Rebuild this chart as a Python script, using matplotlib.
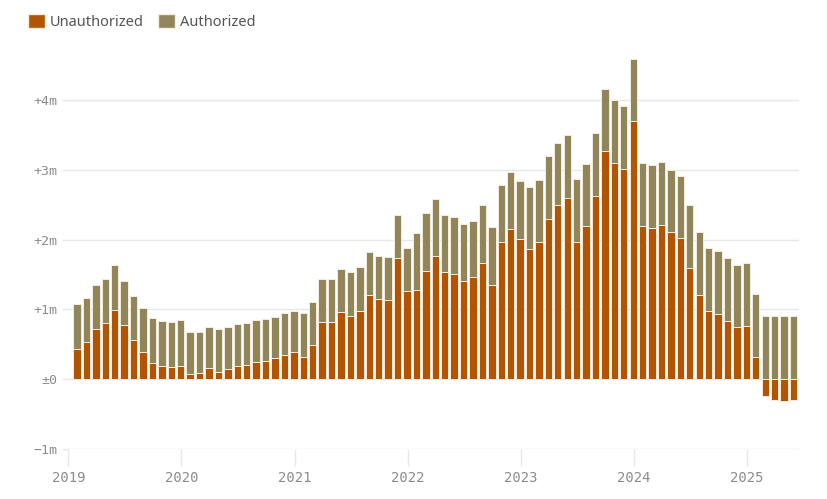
import matplotlib.pyplot as plt
from matplotlib.patches import Patch

# -------- data (millions, monthly Jan 2019 - May 2025) --------
unauthorized = [
    0.43, 0.53, 0.71, 0.80, 0.99, 0.77, 0.56, 0.38, 0.23, 0.19, 0.17, 0.19,
    0.07, 0.09, 0.15, 0.10, 0.14, 0.19, 0.20, 0.24, 0.26, 0.30, 0.34, 0.38,
    0.32, 0.48, 0.82, 0.81, 0.96, 0.91, 0.98, 1.20, 1.15, 1.13, 1.74, 1.26,
    1.27, 1.55, 1.77, 1.54, 1.51, 1.41, 1.46, 1.67, 1.35, 1.97, 2.15, 2.01,
    1.87, 1.96, 2.30, 2.50, 2.60, 1.97, 2.19, 2.63, 3.27, 3.10, 3.02, 3.70,
    2.19, 2.16, 2.21, 2.11, 2.02, 1.59, 1.21, 0.98, 0.93, 0.83, 0.75, 0.76,
    0.32, -0.24, -0.30, -0.32, -0.30,
]
authorized = [
    0.65, 0.63, 0.64, 0.64, 0.64, 0.64, 0.63, 0.64, 0.64, 0.64, 0.65, 0.65,
    0.60, 0.59, 0.60, 0.61, 0.60, 0.60, 0.60, 0.60, 0.60, 0.59, 0.60, 0.60,
    0.62, 0.62, 0.62, 0.62, 0.62, 0.62, 0.62, 0.615, 0.62, 0.62, 0.61, 0.62,
    0.83, 0.83, 0.81, 0.82, 0.82, 0.82, 0.81, 0.83, 0.83, 0.82, 0.82, 0.83,
    0.89, 0.89, 0.90, 0.89, 0.90, 0.90, 0.90, 0.90, 0.89, 0.90, 0.90, 0.89,
    0.91, 0.91, 0.91, 0.89, 0.90, 0.90, 0.90, 0.90, 0.90, 0.90, 0.89, 0.91,
    0.90, 0.90, 0.90, 0.90, 0.90,
]
years = ["2019", "2020", "2021", "2022", "2023", "2024", "2025"]
y_ticks = [-1, 0, 1, 2, 3, 4]
y_labels = ["\u22121m", "\u00b10", "+1m", "+2m", "+3m", "+4m"]

ORANGE = "#b35400"
OLIVE = "#928559"
GRID = "#e8e8e8"

# bars sit near the end of each month
x = [i + 0.92 for i in range(len(unauthorized))]
# authorized stacks on unauthorized when positive, on zero otherwise
bottoms = [u if u > 0 else 0 for u in unauthorized]

fig = plt.figure(figsize=(8.27, 4.99), dpi=100)
ax = fig.add_axes([68.3 / 827, 0.1012, (799 - 68.3) / 827, 0.7954])

ax.bar(x, unauthorized, width=0.78, color=ORANGE, edgecolor="#f7eadb",
       linewidth=0.7, zorder=3)
ax.bar(x, authorized, bottom=bottoms, width=0.78, color=OLIVE,
       edgecolor="#f3eee0", linewidth=0.7, zorder=3)

ax.set_xlim(0, 77.5)
ax.set_ylim(-1, 4.7)

ax.set_yticks(y_ticks)
ax.set_yticklabels(y_labels)
ax.set_xticks([12 * i for i in range(len(years))])
ax.set_xticklabels(years)

for s in ax.spines.values():
    s.set_visible(False)
ax.grid(axis="y", color=GRID, linewidth=1, zorder=0)

ax.tick_params(axis="y", length=4, width=1, color=GRID, pad=4,
               labelcolor="#8c8c8c", labelsize=9.5)
ax.tick_params(axis="x", length=12, width=1, color=GRID, pad=4,
               labelcolor="#8c8c8c", labelsize=10)
for lab in ax.get_xticklabels() + ax.get_yticklabels():
    lab.set_family("DejaVu Sans Mono")

handles = [Patch(facecolor=ORANGE, edgecolor="#f7eadb", label="Unauthorized"),
           Patch(facecolor=OLIVE, edgecolor="#f3eee0", label="Authorized")]
fig.legend(handles=handles, loc="upper left", bbox_to_anchor=(22 / 827, 1 - 8 / 499),
           ncol=2, frameon=False, handlelength=1.15, handleheight=1.15,
           handletextpad=0.35, columnspacing=1.0, borderaxespad=0,
           prop={"family": "Noto Sans", "size": 10.5}, labelcolor="#555555")

plt.savefig("out.png", dpi=100)
